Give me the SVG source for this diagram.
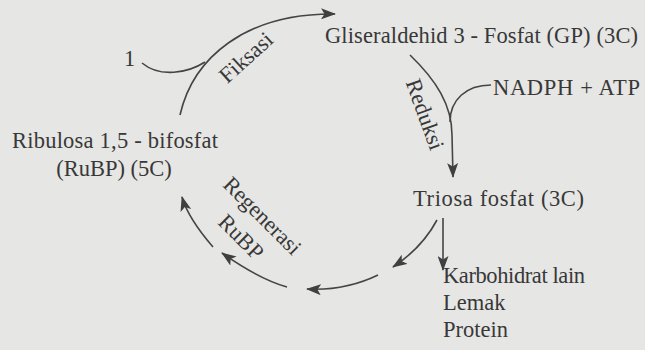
<svg xmlns="http://www.w3.org/2000/svg" width="645" height="350" viewBox="0 0 645 350">
<style>
  text { font-family: "Liberation Serif", "Times New Roman", serif; font-size: 22.5px; fill: #383838; }
  .ln { fill: none; stroke: #454545; stroke-width: 1.6; }
  .arr { marker-end: url(#ah); }
</style>
<defs>
  <marker id="ah" markerWidth="15" markerHeight="11" viewBox="0 0 15 11" refX="14" refY="5.5" orient="auto" markerUnits="userSpaceOnUse">
    <path d="M0,0 L15,5.5 L0,11 L3.5,5.5 Z" fill="#404040"/>
  </marker>
</defs>
<rect x="0" y="0" width="645" height="350" fill="#e6e6e4"/>

<g id="connectors">
  <path class="ln arr" d="M180,115 C193,58 245,13 335,14"/>
  <path class="ln" d="M142,63 C160,78 188,73 205,62"/>
  <path class="ln arr" d="M410,55 C436,80 452,105 452,135 L453,177"/>
  <path class="ln" d="M491,85 C466,85 450,100 450,122"/>
  <path class="ln arr" d="M443,218 L443,270"/>
  <path class="ln arr" d="M437,220 Q422,248 393,267"/>
  <path class="ln arr" d="M378,275 Q345,291 307,289"/>
  <path class="ln arr" d="M287,287 Q259,279 222,253"/>
  <path class="ln arr" d="M213,247 Q188,218 182,197"/>
  <g id="edge-labels">
    <text transform="translate(251,63) rotate(-42)" text-anchor="middle">Fiksasi</text>
    <text transform="translate(418,117) rotate(70)" text-anchor="middle">Reduksi</text>
    <text transform="translate(257,221) rotate(45)" text-anchor="middle"><tspan x="0" y="0">Regenerasi</tspan><tspan x="0" dy="30">RuBP</tspan></text>
  </g>
</g>

<g id="input-1"><text x="124" y="66">1</text></g>
<g id="gp"><text x="325" y="43" textLength="313">Gliseraldehid 3 - Fosfat (GP) (3C)</text></g>
<g id="nadph-atp"><text x="493" y="95" textLength="147">NADPH + ATP</text></g>
<g id="triosa"><text x="413" y="206" textLength="171">Triosa fosfat (3C)</text></g>
<g id="products">
  <text x="443" y="283" textLength="142">Karbohidrat lain</text>
  <text x="443" y="310">Lemak</text>
  <text x="443" y="337">Protein</text>
</g>
<g id="rubp">
  <text x="12" y="148" textLength="206">Ribulosa 1,5 - bifosfat</text>
  <text x="114" y="176" text-anchor="middle">(RuBP) (5C)</text>
</g>
</svg>
